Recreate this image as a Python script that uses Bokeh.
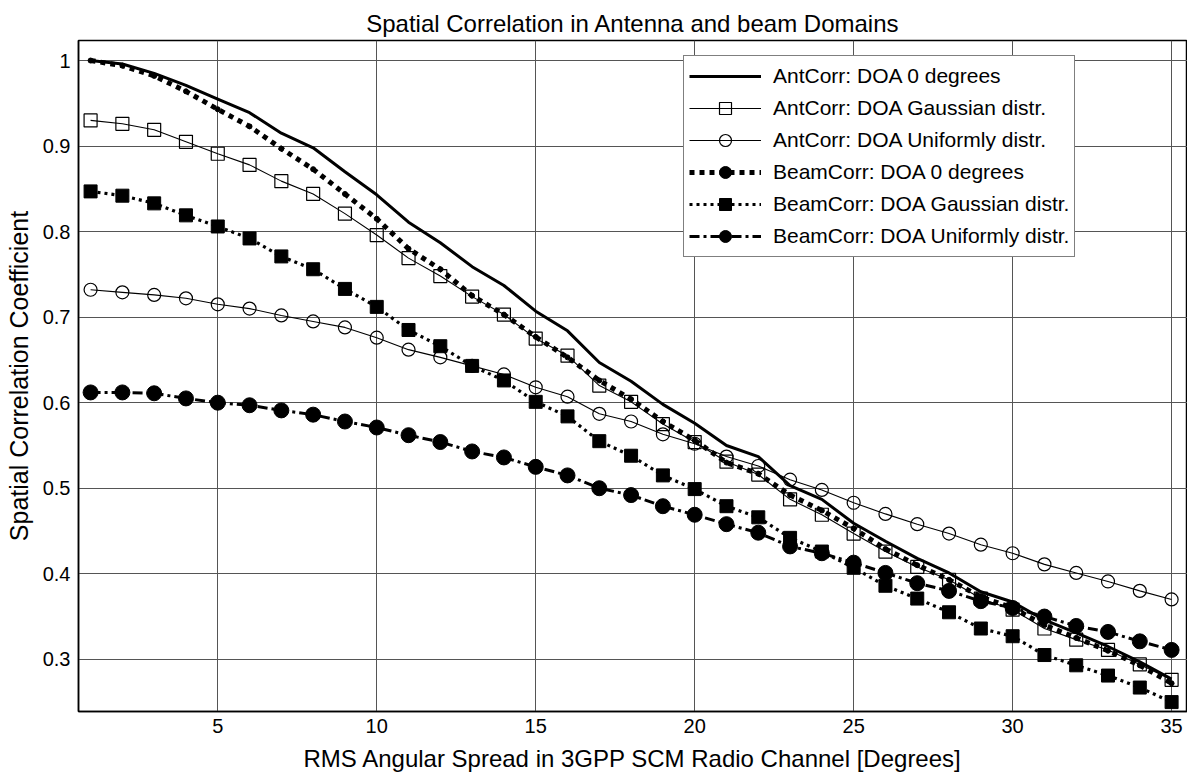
from bokeh.plotting import figure
from bokeh.models import Range1d, FixedTicker, CustomJSTickFormatter, Legend, LegendItem
from bokeh.embed import file_html
from bokeh.resources import INLINE

# RMS angular spread [degrees]
spread = list(range(1, 36))

ant_zero = [1.000, 0.996, 0.985, 0.971, 0.955, 0.939, 0.915, 0.898, 0.870, 0.843,
            0.811, 0.787, 0.759, 0.737, 0.707, 0.684, 0.647, 0.625, 0.598, 0.576,
            0.550, 0.537, 0.503, 0.487, 0.459, 0.438, 0.418, 0.401, 0.379, 0.367,
            0.346, 0.331, 0.315, 0.297, 0.277]
ant_gauss = [0.930, 0.926, 0.919, 0.905, 0.891, 0.878, 0.859, 0.844, 0.821, 0.796,
             0.769, 0.748, 0.724, 0.703, 0.675, 0.655, 0.620, 0.601, 0.575, 0.554,
             0.531, 0.516, 0.487, 0.469, 0.447, 0.426, 0.408, 0.393, 0.371, 0.358,
             0.336, 0.323, 0.311, 0.294, 0.276]
ant_unif = [0.732, 0.729, 0.726, 0.722, 0.715, 0.710, 0.702, 0.695, 0.688, 0.676,
            0.662, 0.653, 0.643, 0.633, 0.618, 0.607, 0.587, 0.578, 0.563, 0.552,
            0.537, 0.526, 0.510, 0.498, 0.483, 0.470, 0.458, 0.447, 0.434, 0.424,
            0.411, 0.401, 0.391, 0.380, 0.370]
beam_zero = [1.000, 0.994, 0.982, 0.964, 0.943, 0.923, 0.897, 0.873, 0.844, 0.815,
             0.780, 0.756, 0.725, 0.703, 0.677, 0.653, 0.626, 0.604, 0.578, 0.556,
             0.530, 0.517, 0.492, 0.474, 0.453, 0.429, 0.410, 0.393, 0.373, 0.360,
             0.340, 0.325, 0.310, 0.293, 0.272]
beam_gauss = [0.847, 0.842, 0.833, 0.819, 0.806, 0.792, 0.771, 0.756, 0.733, 0.712,
              0.685, 0.666, 0.643, 0.626, 0.601, 0.584, 0.555, 0.538, 0.515, 0.499,
              0.479, 0.466, 0.442, 0.426, 0.407, 0.386, 0.371, 0.355, 0.336, 0.327,
              0.305, 0.293, 0.281, 0.267, 0.250]
beam_unif = [0.612, 0.612, 0.611, 0.605, 0.600, 0.597, 0.591, 0.586, 0.578, 0.571,
             0.562, 0.554, 0.543, 0.536, 0.525, 0.515, 0.500, 0.492, 0.479, 0.469,
             0.458, 0.448, 0.432, 0.424, 0.413, 0.401, 0.389, 0.380, 0.368, 0.360,
             0.350, 0.339, 0.332, 0.321, 0.311]

x_ticks = [5, 10, 15, 20, 25, 30, 35]
y_ticks = [0.3, 0.4, 0.5, 0.6, 0.7, 0.8, 0.9, 1.0]

labels = ["AntCorr: DOA 0 degrees", "AntCorr: DOA Gaussian distr.",
          "AntCorr: DOA Uniformly distr.", "BeamCorr: DOA 0 degrees",
          "BeamCorr: DOA Gaussian distr.", "BeamCorr: DOA Uniformly distr."]

FONT = "Liberation Sans"

p = figure(frame_width=1109, frame_height=671, output_backend="svg", toolbar_location=None,
           x_range=Range1d(0.62, 35.5), y_range=Range1d(0.239, 1.0234),
           min_border_left=78, min_border_right=0, min_border_top=40, min_border_bottom=0,
           title="Spatial Correlation in Antenna and beam Domains")

p.title.text_font = FONT
p.title.text_font_size = "24px"
p.title.text_font_style = "normal"
p.title.text_color = "black"
p.title.align = "center"
p.title.vertical_align = "top"
p.title.standoff = 4

p.outline_line_color = "black"
p.outline_line_width = 1.5

for ax in (p.xaxis[0], p.yaxis[0]):
    ax.axis_line_color = "black"
    ax.axis_line_width = 1.5
    ax.major_tick_in = 0
    ax.major_tick_out = 0
    ax.minor_tick_in = 0
    ax.minor_tick_out = 0
    ax.major_label_text_font = FONT
    ax.major_label_text_font_size = "20px"
    ax.major_label_text_color = "black"
    ax.axis_label_text_font = FONT
    ax.axis_label_text_font_style = "normal"
    ax.axis_label_text_color = "black"

p.xaxis.axis_label_text_font_size = "24px"
p.yaxis.axis_label_text_font_size = "25px"
p.xaxis.ticker = FixedTicker(ticks=x_ticks)
p.yaxis.ticker = FixedTicker(ticks=y_ticks)
p.yaxis.formatter = CustomJSTickFormatter(code="return String(Math.round(tick*10)/10);")
p.xaxis.axis_label = "RMS Angular Spread in 3GPP SCM Radio Channel [Degrees]"
p.yaxis.axis_label = "Spatial Correlation Coefficient"
p.xaxis.major_label_standoff = 7
p.yaxis.major_label_standoff = 8
p.xaxis.axis_label_standoff = 9
p.yaxis.axis_label_standoff = 7

for g in (p.xgrid[0], p.ygrid[0]):
    g.grid_line_color = "#555555"
    g.grid_line_width = 1

# series
r1 = p.line(spread, ant_zero, line_color="black", line_width=3)

r2l = p.line(spread, ant_gauss, line_color="black", line_width=1.1)
r2m = p.scatter(spread, ant_gauss, marker="square", size=13, fill_color=None,
                line_color="black", line_width=1.2)

r3l = p.line(spread, ant_unif, line_color="black", line_width=1.1)
r3m = p.scatter(spread, ant_unif, marker="circle", size=13, fill_color=None,
                line_color="black", line_width=1.2)

r4l = p.line(spread, beam_zero, line_color="black", line_width=5, line_dash="5 5")
r4m = p.scatter(spread, beam_zero, marker="circle", size=5, fill_color="black",
                line_color="black")

r5l = p.line(spread, beam_gauss, line_color="black", line_width=3.2, line_dash="3 4")
r5m = p.scatter(spread, beam_gauss, marker="square", size=13, fill_color="black",
                line_color="black")

r6l = p.line(spread, beam_unif, line_color="black", line_width=3, line_dash="10 4 3 4")
r6m = p.scatter(spread, beam_unif, marker="circle", size=15, fill_color="black",
                line_color="black")

legend = Legend(items=[
    LegendItem(label=labels[0], renderers=[r1]),
    LegendItem(label=labels[1], renderers=[r2l, r2m]),
    LegendItem(label=labels[2], renderers=[r3l, r3m]),
    LegendItem(label=labels[3], renderers=[r4l, r4m]),
    LegendItem(label=labels[4], renderers=[r5l, r5m]),
    LegendItem(label=labels[5], renderers=[r6l, r6m]),
], location=(605, 454))
legend.label_text_font = FONT
legend.label_text_font_size = "21px"
legend.label_text_color = "black"
legend.glyph_width = 72
legend.glyph_height = 30
legend.label_height = 30
legend.spacing = 2
legend.padding = 5
legend.margin = 0
legend.label_standoff = 12
legend.border_line_color = "black"
legend.border_line_width = 1
legend.background_fill_color = "white"
legend.background_fill_alpha = 1.0
p.add_layout(legend)

open("out.html", "w").write(file_html(p, INLINE))
